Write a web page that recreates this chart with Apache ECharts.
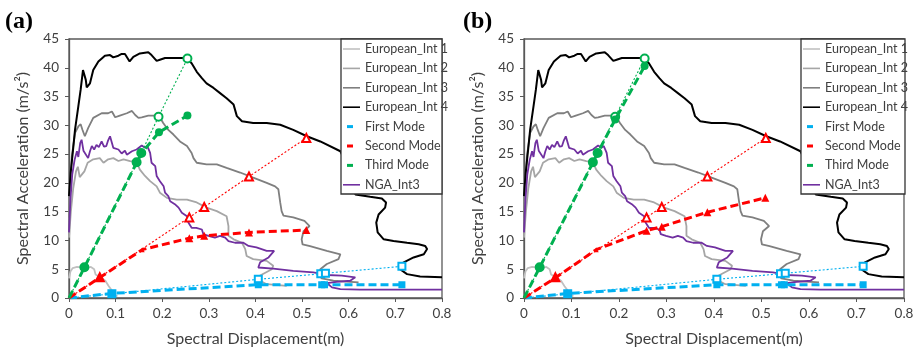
<!DOCTYPE html>
<html>
<head>
<meta charset="utf-8">
<script src="https://cdn.jsdelivr.net/npm/echarts@6/dist/echarts.min.js"></script>
<style>
  html, body { margin: 0; padding: 0; background: #fff; }
  #chart { width: 919px; height: 352px; }
</style>
</head>
<body>
<div id="chart"></div>
<script>
// Demand spectra in ADRS format: [Sd (m), Sa (m/s2)]
const europeanInt1 = [[0,3.4],[0.003,4.6],[0.008,5.2],[0.017,5.4],[0.028,5.3],[0.038,5.2],[0.047,5.4],[0.054,5.0],[0.057,4.1],[0.067,3.6],[0.078,3.0],[0.085,2.1],[0.092,1.3],[0.099,0.5],[0.104,0.3]];

const europeanInt2 = [[0,10.5],[0.004,15],[0.009,19],[0.015,22],[0.019,22.8],[0.023,21],[0.026,20.7],[0.033,22],[0.04,23.5],[0.052,24.1],[0.066,24.3],[0.074,23.5],[0.084,24.1],[0.095,24.3],[0.106,23.8],[0.117,24.1],[0.131,23.8],[0.145,23.6],[0.152,22.3],[0.163,21.2],[0.174,20.3],[0.188,19.4],[0.195,18.3],[0.21,17.4],[0.231,17.1],[0.253,17.1],[0.274,16.6],[0.295,15.7],[0.317,15.1],[0.338,14.2],[0.342,12.5],[0.342,10.8],[0.353,10.2],[0.371,9.6],[0.378,8.5],[0.381,7.3],[0.395,6.75],[0.424,6.45],[0.438,5.6],[0.435,5.0],[0.41,3.9],[0.41,3.0],[0.424,2.4],[0.467,2.1]];

const europeanInt3 = [[0,14],[0.003,20],[0.006,24.6],[0.013,28.7],[0.02,29.8],[0.025,30.2],[0.029,29.2],[0.034,28.1],[0.041,29.5],[0.052,31.3],[0.07,32.1],[0.084,32.1],[0.092,32.4],[0.099,31.4],[0.109,31.7],[0.124,32.1],[0.135,32.5],[0.142,31.8],[0.149,31.3],[0.156,31.4],[0.17,31.7],[0.188,31.7],[0.195,31.4],[0.202,30.4],[0.213,29.2],[0.224,28.4],[0.238,27.2],[0.253,26.4],[0.263,25.2],[0.267,24.3],[0.274,23.5],[0.295,23.2],[0.317,23.2],[0.338,22.6],[0.367,21.8],[0.395,20.9],[0.424,20.0],[0.442,19.4],[0.449,18.9],[0.453,16.6],[0.456,15.1],[0.46,14.3],[0.481,14.0],[0.505,13.4],[0.516,12.5],[0.503,11.6],[0.499,10.2],[0.501,9.3],[0.517,9.0],[0.553,8.2],[0.582,7.6],[0.578,6.75],[0.553,5.9],[0.539,5.0],[0.536,4.2],[0.542,3.4],[0.567,3.0],[0.621,2.7]];

const europeanInt4 = [[0,17.7],[0.0036,21.8],[0.008,25.2],[0.013,29.3],[0.02,33.3],[0.025,36.2],[0.03,39.6],[0.032,39.8],[0.036,37.9],[0.038,36.6],[0.045,37.3],[0.052,39.6],[0.063,41.1],[0.077,42.1],[0.088,42.2],[0.095,41.8],[0.106,42.1],[0.113,42.4],[0.12,42.4],[0.13,41.1],[0.138,41.9],[0.152,42.5],[0.17,42.7],[0.177,42.2],[0.188,41.2],[0.195,41.4],[0.206,41.7],[0.227,41.7],[0.252,41.7],[0.263,40.8],[0.274,39.3],[0.285,38.2],[0.295,37.3],[0.31,36.5],[0.324,35.6],[0.338,34.7],[0.353,33.6],[0.36,31.6],[0.371,30.7],[0.395,30.4],[0.424,30.4],[0.453,30.1],[0.481,29.2],[0.51,28.1],[0.539,27.2],[0.582,25.5],[0.6,22.5],[0.612,19.5],[0.614,18.0],[0.646,17.6],[0.671,17.3],[0.68,16.6],[0.678,15.7],[0.664,14.5],[0.659,13.1],[0.662,11.4],[0.675,10.2],[0.696,9.9],[0.725,9.6],[0.75,9.35],[0.764,9.05],[0.768,8.5],[0.761,7.6],[0.739,7.05],[0.718,6.2],[0.707,5.6],[0.71,5.0],[0.725,4.15],[0.753,3.75],[0.8,3.6]];

const ngaInt3 = [[0,11.4],[0.003,17],[0.007,21.5],[0.012,24],[0.017,25.5],[0.02,24.5],[0.024,26.9],[0.027,27.5],[0.031,25.6],[0.034,25.8],[0.041,24.3],[0.045,25.5],[0.049,26.4],[0.054,25.8],[0.059,26.6],[0.064,26.2],[0.07,27.2],[0.075,26.3],[0.08,26.4],[0.084,27.4],[0.088,28.1],[0.092,28.0],[0.095,26.1],[0.106,25.8],[0.113,25.1],[0.12,25.6],[0.124,24.9],[0.135,25.5],[0.145,25.8],[0.156,26.5],[0.163,26.1],[0.168,26.4],[0.174,25.2],[0.177,23.5],[0.185,22.9],[0.188,21.2],[0.195,20.3],[0.203,19.4],[0.206,18.3],[0.213,17.7],[0.217,16.8],[0.227,16.3],[0.235,15.7],[0.242,14.8],[0.253,14.2],[0.256,13.1],[0.263,12.2],[0.273,12.2],[0.285,11.9],[0.288,11.1],[0.299,10.8],[0.313,10.5],[0.324,10.8],[0.335,10.5],[0.342,9.9],[0.356,9.6],[0.374,9.6],[0.385,9.05],[0.402,8.8],[0.413,8.5],[0.424,8.2],[0.44,8.2],[0.428,7.05],[0.41,6.2],[0.406,5.3],[0.438,5.1],[0.481,4.7],[0.524,4.45],[0.553,4.0],[0.585,3.9],[0.614,3.6],[0.603,3.0],[0.574,2.8],[0.553,2.6],[0.564,1.85],[0.582,1.55],[0.624,1.45],[0.8,1.45]];

// Elastic demand points (open markers), shared by both panels
const firstElastic  = [[0,0],[0.092,0.72],[0.406,3.25],[0.540,4.2],[0.550,4.3],[0.714,5.5]];
const secondElastic = [[0,0],[0.066,3.6],[0.258,14.0],[0.290,15.8],[0.386,21.1],[0.509,27.8]];
const thirdElastic  = [[0,0],[0.033,5.35],[0.145,23.6],[0.155,25.2],[0.192,31.5],[0.254,41.6]];

// Performance points (filled markers), panel (a)
const firstModeA  = [[0,0],[0.092,0.8],[0.406,2.3],[0.542,2.3],[0.548,2.3],[0.714,2.3]];
const secondModeA = [[0,0],[0.066,3.55],[0.157,8.4],[0.258,10.4],[0.290,10.8],[0.386,11.4],[0.509,11.8]];
const thirdModeA  = [[0,0],[0.033,5.3],[0.145,23.5],[0.156,25.2],[0.193,28.8],[0.254,31.7]];

// Performance points (filled markers), panel (b)
const firstModeB  = [[0,0],[0.092,0.8],[0.406,2.3],[0.542,2.3],[0.548,2.3],[0.714,2.3]];
const secondModeB = [[0,0],[0.066,3.5],[0.152,8.4],[0.258,11.7],[0.290,12.4],[0.386,14.9],[0.508,17.4]];
const thirdModeB  = [[0,0],[0.033,5.3],[0.145,23.5],[0.155,25.2],[0.192,31.0],[0.254,40.3]];

const curveNames = ['European_Int 1','European_Int 2','European_Int 3','European_Int 4'];
const modeNames = ['First Mode','Second Mode','Third Mode'];
const ngaName = 'NGA_Int3';
const panelLabels = ['(a)','(b)'];

const FONT = 'Lato';
const TEXT = '#404040';
const FRAME = '#595959';
const GRAY = ['#c0c0c0','#a6a6a6','#7f7f7f','#000000'];
const PURPLE = '#7030a0';
const MODE_COLORS = ['#00b0f0','#ff0000','#00b050'];
const MODE_SYMBOLS = ['rect','triangle','circle'];
const MODE_SIZES = [7, 8, 8];

const grids = [
  { left: 69, top: 39, width: 373, height: 260 },
  { left: 524, top: 39, width: 380, height: 260 }
];
const legendBoxes = [
  { x: 341, y: 39, width: 101, height: 155 },
  { x: 801, y: 39, width: 104, height: 155 }
];

function xAxisFor(i) {
  return {
    gridIndex: i, type: 'value', min: 0, max: 0.8, interval: 0.1,
    name: 'Spectral Displacement(m)', nameLocation: 'middle', nameGap: 33,
    nameTextStyle: { fontFamily: FONT, fontSize: 16, color: TEXT },
    axisLine: { show: true, onZero: false, lineStyle: { color: FRAME, width: 1.3 } },
    axisTick: { show: true, length: 4, lineStyle: { color: FRAME } },
    axisLabel: { fontFamily: FONT, fontSize: 13.5, color: TEXT, margin: 9,
      formatter: v => (v === 0 ? '0' : v.toFixed(1)) },
    splitLine: { show: false }
  };
}
function yAxisFor(i) {
  return {
    gridIndex: i, type: 'value', min: 0, max: 45, interval: 5,
    name: 'Spectral Acceleration (m/s²)', nameLocation: 'middle', nameGap: 38,
    nameTextStyle: { fontFamily: FONT, fontSize: 16, color: TEXT },
    axisLine: { show: true, onZero: false, lineStyle: { color: FRAME, width: 1.3 } },
    axisTick: { show: true, length: 4, lineStyle: { color: FRAME } },
    axisLabel: { fontFamily: FONT, fontSize: 13.5, color: TEXT, margin: 10 },
    splitLine: { show: false }
  };
}

function curve(name, data, color, width, i) {
  return {
    name, type: 'line', xAxisIndex: i, yAxisIndex: i, data,
    symbol: 'none', z: 2,
    itemStyle: { color },
    lineStyle: { color, width }
  };
}
// thin dotted line through the elastic demand points; no marker at the origin
function elastic(m, data, i) {
  const c = MODE_COLORS[m];
  return {
    name: modeNames[m] + ' elastic', type: 'line', xAxisIndex: i, yAxisIndex: i, data,
    symbol: 'empty' + MODE_SYMBOLS[m][0].toUpperCase() + MODE_SYMBOLS[m].slice(1),
    symbolSize: (v, p) => (p.dataIndex === 0 ? 0 : MODE_SIZES[m]),
    z: 3,
    itemStyle: { color: c, borderColor: c, borderWidth: 1.1 },
    lineStyle: { color: c, width: 1.1, type: [2, 2] }
  };
}
// thick dashed line through the performance points; the bend on the
// second-mode curve gets a smaller marker
function inelastic(m, data, i) {
  const c = MODE_COLORS[m];
  return {
    name: modeNames[m], type: 'line', xAxisIndex: i, yAxisIndex: i, data,
    symbol: MODE_SYMBOLS[m],
    symbolSize: (v, p) => {
      if (p.dataIndex === 0) return 0;
      if (m === 1 && p.dataIndex === 2) return 5;
      return MODE_SIZES[m];
    },
    z: 4,
    itemStyle: { color: c },
    lineStyle: { color: c, width: 3, type: [8, 4] }
  };
}

const modeSets = [
  [firstModeA, secondModeA, thirdModeA],
  [firstModeB, secondModeB, thirdModeB]
];
const elasticSet = [firstElastic, secondElastic, thirdElastic];
const curveSet = [europeanInt1, europeanInt2, europeanInt3, europeanInt4];

const series = [];
for (let i = 0; i < 2; i++) {
  curveSet.forEach((d, k) => series.push(curve(curveNames[k], d, GRAY[k], k === 3 ? 2 : 1.8, i)));
  series.push(curve(ngaName, ngaInt3, PURPLE, 1.8, i));
  elasticSet.forEach((d, m) => series.push(elastic(m, d, i)));
  modeSets[i].forEach((d, m) => series.push(inelastic(m, d, i)));
}

const LINE_ICON = 'path://M0,0M17,10M0,4.2H17V5.8H0Z';
const DASH_ICON = 'path://M0,0M17,10M4,3.5H10V6.5H4Z';
const legendData = curveNames.map(n => ({ name: n, icon: LINE_ICON }))
  .concat(modeNames.map(n => ({ name: n, icon: DASH_ICON })))
  .concat([{ name: ngaName, icon: LINE_ICON }]);

const legends = legendBoxes.map(b => ({
  orient: 'vertical', left: b.x + 2, top: b.y, padding: [3, 0, 0, 0],
  itemWidth: 17, itemHeight: 10, itemGap: 5.4, selectedMode: false,
  itemStyle: { borderWidth: 0 },
  textStyle: { fontFamily: FONT, fontSize: 12.5, color: TEXT, lineHeight: 14 },
  data: legendData
}));

const graphics = [];
legendBoxes.forEach(b => graphics.push({
  type: 'rect', z: 3.5, shape: { x: b.x, y: b.y, width: b.width, height: b.height },
  style: { fill: '#ffffff', stroke: '#333333', lineWidth: 1.3 }
}));
[5, 463].forEach((x, i) => graphics.push({
  type: 'text', left: x, top: 10, z: 5,
  style: { text: panelLabels[i], fontFamily: 'Liberation Serif', fontWeight: 'bold', fontSize: 24, fill: '#000' }
}));

const chart = echarts.init(document.getElementById('chart'), null, { renderer: 'canvas' });
chart.setOption({
  animation: false,
  backgroundColor: '#ffffff',
  grid: grids.map(g => Object.assign({ show: true, borderColor: FRAME, borderWidth: 1.3, backgroundColor: 'transparent' }, g)),
  xAxis: [xAxisFor(0), xAxisFor(1)],
  yAxis: [yAxisFor(0), yAxisFor(1)],
  legend: legends,
  graphic: graphics,
  series
});
</script>
</body>
</html>
